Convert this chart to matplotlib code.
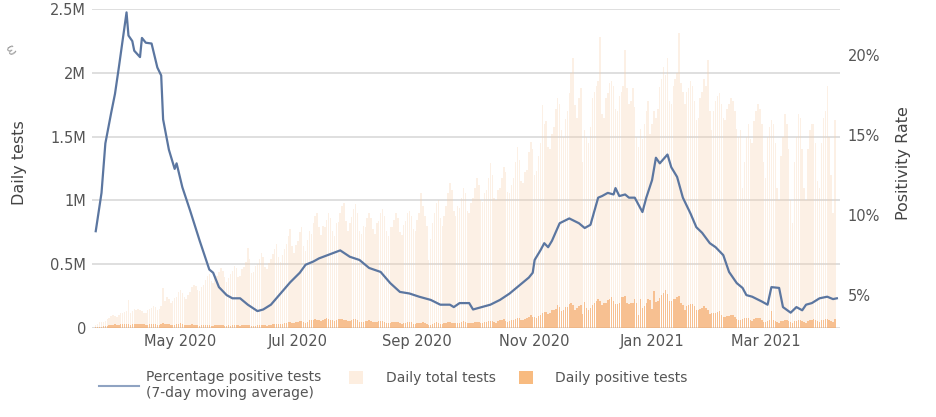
import numpy as np
import pandas as pd
import matplotlib
matplotlib.use("Agg")
import matplotlib.pyplot as plt
import matplotlib.dates as mdates
from matplotlib.lines import Line2D
from matplotlib.patches import Patch

# daily values from 2020-03-18, one row per week (Wed..Tue), thousands
first_day = "2020-03-18"

total_tests = [
    25, 35, 45, 50, 45, 55, 70,
    80, 95, 100, 95, 90, 105, 115,
    115, 125, 135, 220, 120, 130, 150,
    145, 150, 140, 135, 120, 115, 140,
    150, 160, 170, 165, 140, 150, 175,
    310, 210, 240, 230, 200, 210, 235,
    245, 280, 300, 275, 240, 230, 260,
    280, 320, 340, 330, 300, 290, 320,
    340, 380, 410, 420, 370, 350, 400,
    410, 440, 470, 450, 400, 360, 390,
    420, 450, 490, 470, 400, 410, 460,
    480, 520, 630, 540, 430, 440, 490,
    500, 540, 590, 560, 480, 460, 510,
    540, 580, 620, 660, 560, 520, 570,
    620, 660, 720, 780, 640, 590, 650,
    680, 750, 790, 640, 600, 690, 760,
    740, 820, 880, 900, 790, 730, 800,
    790, 850, 900, 860, 760, 720, 820,
    830, 900, 960, 980, 840, 760, 820,
    870, 930, 970, 900, 760, 740, 800,
    790, 860, 900, 860, 780, 740, 820,
    840, 900, 930, 880, 760, 720, 790,
    790, 850, 900, 860, 750, 730, 810,
    840, 900, 920, 880, 780, 760, 850,
    900, 1060, 960, 880, 800, 530, 700,
    820, 900, 980, 1000, 860, 800, 880,
    960, 1060, 1140, 1080, 920, 880, 960,
    940, 1020, 1100, 1060, 920, 900, 980,
    1020, 1100, 1180, 1120, 1000, 990, 1060,
    1080, 1180, 1290, 1200, 1020, 1000, 1080,
    1100, 1180, 1260, 1220, 1070, 1060, 1120,
    1180, 1300, 1420, 1320, 1150, 1140, 1220,
    1240, 1380, 1460, 1400, 1200, 1230, 1350,
    1450, 1750, 1600, 1620, 1420, 1400, 1520,
    1580, 1720, 1800, 1760, 1550, 1500, 1640,
    1700, 1840, 2000, 2120, 1750, 1650, 1800,
    1880, 1300, 1550, 1500, 1450, 1580, 1800,
    1850, 1900, 1940, 2280, 1680, 1650, 1800,
    1840, 1920, 1940, 1900, 1720, 1700, 1820,
    1850, 1900, 2180, 1880, 1760, 1780, 1880,
    1730, 1500, 1420, 1560, 1480, 1600, 1700,
    1780, 1520, 1600, 1700, 1650, 1720, 1890,
    1950, 2050, 1980, 2120, 1780, 1760, 1900,
    1950, 2000, 2310, 1920, 1850, 1760, 1850,
    1880, 1940, 1900, 1780, 1630, 1650, 1800,
    1850, 1950, 1900, 2100, 1700, 1550, 1700,
    1780, 1820, 1840, 1760, 1650, 1630, 1720,
    1760, 1800, 1780, 1700, 1560, 1500, 1550,
    1100, 1300, 1500, 1600, 1480, 1450, 1620,
    1700, 1760, 1720, 1600, 1300, 1180, 1500,
    1580, 1630, 1600, 1450, 1100, 1000, 1350,
    1500, 1680, 1600, 1400, 1000, 820, 1300,
    1500, 1680, 1650, 1400, 1100, 1000, 1400,
    1550, 1600, 1600, 1450, 1150, 1100, 1450,
    1650, 1700, 1900, 1500, 1200, 900, 1630,
]

positive_tests = [
    5, 7, 9, 11, 12, 16, 19,
    20, 22, 25, 28, 26, 26, 28,
    30, 32, 33, 32, 27, 28, 31,
    32, 34, 35, 31, 28, 26, 27,
    29, 31, 32, 31, 27, 26, 28,
    38, 29, 35, 33, 27, 24, 25,
    28, 30, 36, 29, 26, 22, 24,
    25, 28, 27, 25, 21, 19, 22,
    21, 27, 26, 24, 19, 18, 22,
    21, 25, 24, 23, 19, 19, 20,
    19, 22, 24, 24, 20, 18, 20,
    20, 22, 23, 22, 18, 17, 19,
    22, 23, 25, 26, 20, 18, 24,
    26, 28, 31, 32, 30, 28, 33,
    38, 39, 45, 44, 42, 36, 46,
    50, 55, 57, 46, 43, 50, 60,
    62, 60, 68, 66, 60, 58, 62,
    67, 75, 71, 65, 63, 58, 63,
    70, 70, 72, 66, 60, 55, 58,
    66, 68, 67, 59, 50, 45, 50,
    53, 55, 60, 55, 47, 45, 50,
    55, 52, 54, 48, 40, 37, 42,
    45, 46, 48, 44, 36, 35, 38,
    40, 45, 46, 44, 33, 33, 38,
    40, 43, 45, 42, 31, 25, 26,
    34, 36, 47, 41, 35, 32, 38,
    38, 44, 48, 43, 38, 36, 40,
    40, 44, 55, 46, 40, 36, 42,
    40, 46, 49, 48, 37, 36, 44,
    50, 57, 58, 54, 46, 42, 52,
    60, 63, 69, 57, 49, 58, 61,
    63, 72, 82, 78, 60, 66, 74,
    78, 90, 100, 84, 85, 80, 93,
    104, 120, 127, 128, 106, 118, 140,
    144, 150, 180, 165, 135, 145, 162,
    165, 187, 196, 178, 143, 155, 175,
    180, 110, 205, 155, 140, 160, 180,
    200, 210, 225, 215, 180, 195, 200,
    220, 230, 240, 215, 190, 190, 200,
    245, 240, 250, 195, 190, 195, 200,
    230, 200, 100, 225, 155, 175, 200,
    230, 220, 150, 290, 205, 210, 235,
    255, 275, 300, 265, 215, 210, 230,
    230, 240, 250, 200, 180, 140, 170,
    180, 190, 190, 170, 140, 140, 150,
    160, 170, 160, 140, 110, 120, 120,
    120, 125, 130, 100, 85, 90, 95,
    95, 105, 100, 90, 70, 65, 65,
    70, 75, 80, 75, 60, 55, 72,
    75, 78, 75, 65, 50, 50, 58,
    65, 130, 65, 58, 45, 40, 55,
    58, 62, 60, 55, 45, 40, 52,
    58, 62, 64, 58, 48, 42, 55,
    62, 66, 70, 63, 52, 48, 60,
    66, 70, 72, 65, 55, 45, 68,
]

# positivity rate readings: day offset from first_day, percent
rate_day = [0, 3, 5, 8, 10, 12, 16, 17, 19, 20, 23, 24, 26, 29, 32, 34, 35,
            38, 41, 42, 45, 49, 54, 59, 61, 64, 68, 71, 75, 79, 84, 87, 91,
            96, 101, 106, 109, 113, 116, 127, 132, 137, 142, 148, 153, 158,
            163, 168, 174, 179, 184, 186, 189, 194, 196, 199, 205, 210, 215,
            220, 225, 227, 228, 231, 233, 235, 237, 241, 246, 251, 254, 257,
            261, 263, 266, 269, 270, 272, 275, 277, 280, 284, 286, 289, 291,
            293, 297, 299, 302, 305, 309, 312, 315, 319, 322, 326, 329, 333,
            336, 338, 341, 346, 349, 351, 355, 357, 361, 364, 367, 369, 372,
            376, 380, 383, 385]
rate_pct = [9.0, 11.4, 14.5, 16.4, 17.6, 19.25, 22.7, 21.25, 20.9, 20.3, 19.9,
            21.1, 20.8, 20.75, 19.25, 18.75, 16.0, 14.1, 12.9, 13.25, 11.75,
            10.3, 8.4, 6.6, 6.4, 5.5, 5.0, 4.8, 4.8, 4.4, 4.0, 4.1, 4.4, 5.1,
            5.8, 6.4, 6.9, 7.1, 7.3, 7.8, 7.4, 7.2, 6.7, 6.45, 5.75, 5.2, 5.1,
            4.9, 4.7, 4.4, 4.4, 4.25, 4.5, 4.5, 4.1, 4.2, 4.4, 4.7, 5.1, 5.6,
            6.1, 6.4, 7.2, 7.8, 8.25, 8.0, 8.4, 9.5, 9.8, 9.5, 9.2, 9.4, 11.1,
            11.2, 11.4, 11.3, 11.7, 11.2, 11.3, 11.1, 11.1, 10.2, 11.1, 12.2,
            13.6, 13.25, 13.8, 13.0, 12.4, 11.1, 10.1, 9.25, 8.9, 8.25, 8.0,
            7.5, 6.45, 5.75, 5.45, 5.0, 4.9, 4.6, 4.4, 5.5, 5.45, 4.25, 3.9,
            4.25, 4.05, 4.4, 4.5, 4.8, 4.9, 4.75, 4.8]

left_ticks = [0, 500, 1000, 1500, 2000, 2500]
left_labels = ["0", "0.5M", "1M", "1.5M", "2M", "2.5M"]
right_ticks = [5, 10, 15, 20]
right_labels = ["5%", "10%", "15%", "20%"]

dates = pd.date_range(first_day, periods=len(total_tests), freq="D")
rate_dates = pd.Timestamp(first_day) + pd.to_timedelta(rate_day, unit="D")

txt = "#555555"
fig = plt.figure(figsize=(9.36, 4.17), dpi=100)
ax = fig.add_axes([0.098, 0.2134, 0.799, 0.7646])

ax.bar(dates, total_tests, width=0.75, color="#f7d2b0", alpha=0.33, linewidth=0, zorder=2)
ax.bar(dates, positive_tests, width=0.75, color="#f4a05a", alpha=0.6, linewidth=0, zorder=3)

ax.set_ylim(0, 2500)
ax.set_yticks(left_ticks)
ax.set_yticklabels(left_labels)
ax.grid(axis="y", color="#d9d9d9", linewidth=1.2, zorder=1)
ax.set_axisbelow(True)
ax.set_xlim(pd.Timestamp("2020-03-15 22:00"), pd.Timestamp("2021-04-08 10:00"))
ax.xaxis.set_major_locator(mdates.MonthLocator(bymonth=[1, 3, 5, 7, 9, 11]))
ax.xaxis.set_major_formatter(mdates.DateFormatter("%b %Y"))
for s in ax.spines.values():
    s.set_visible(False)
ax.tick_params(length=0, labelsize=10.5, colors=txt, pad=4)

ax2 = ax.twinx()
ax2.plot(rate_dates, rate_pct, color="#5b76a0", linewidth=1.6, zorder=5)
ax2.set_ylim(2.94, 22.9)
ax2.set_yticks(right_ticks)
ax2.set_yticklabels(right_labels)
for s in ax2.spines.values():
    s.set_visible(False)
ax2.tick_params(length=0, labelsize=10.5, colors=txt, pad=6)

fig.text(0.021, 0.61, "Daily tests", rotation=90, ha="center", va="center",
         fontsize=11.5, color="#444444", family=["Liberation Sans Narrow", "DejaVu Sans"])
fig.text(0.965, 0.61, "Positivity Rate", rotation=90, ha="center", va="center",
         fontsize=11.5, color="#444444", family=["Liberation Sans Narrow", "DejaVu Sans"])
fig.text(0.01, 0.88, "\u03c9", rotation=-60, fontsize=9, color="#999999", ha="center", va="center")

leg1 = fig.legend([Line2D([0], [0], color="#8fa3c2", linewidth=1.5)],
                  ["Percentage positive tests\n(7-day moving average)"],
                  loc="center left", bbox_to_anchor=(0.092, 0.077), frameon=False,
                  fontsize=10, labelcolor=txt, handlelength=2.9, handletextpad=0.5)
fig.legend([Patch(facecolor="#fdeee0", edgecolor="none"), Patch(facecolor="#f8bb80", edgecolor="none")],
           ["Daily total tests", "Daily positive tests"],
           loc="center left", bbox_to_anchor=(0.36, 0.094), ncol=2, frameon=False,
           fontsize=10, labelcolor=txt, handlelength=1.0, handleheight=1.1,
           handletextpad=1.6, columnspacing=1.7)

fig.savefig("out.png", dpi=100)
